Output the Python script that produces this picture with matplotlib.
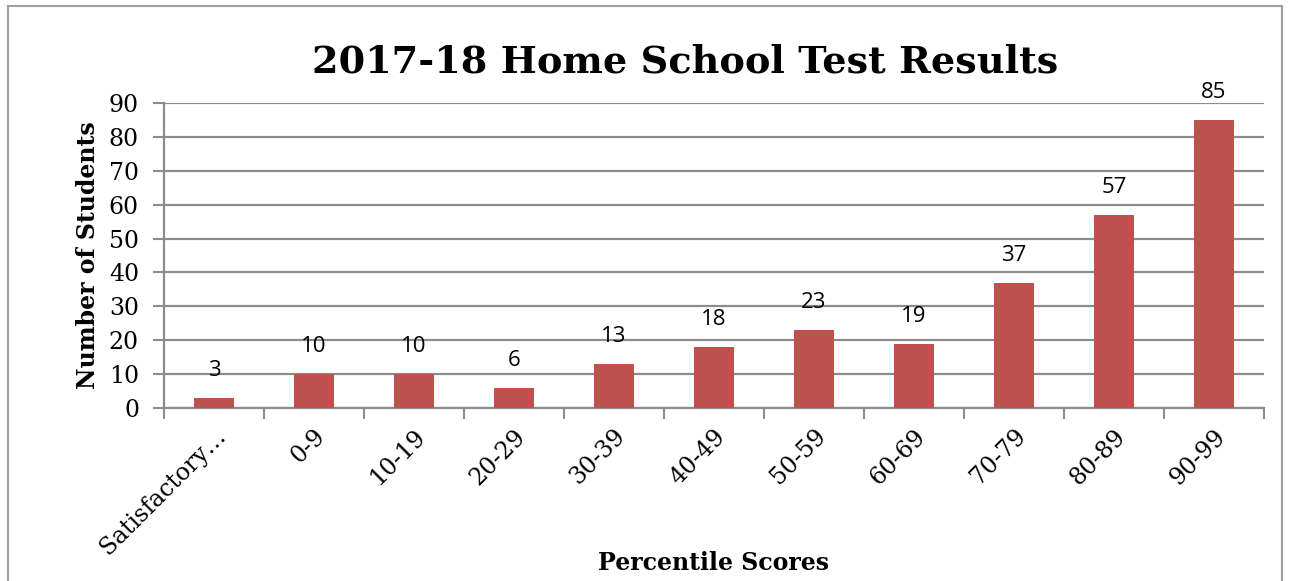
import numpy as np
import matplotlib.pyplot as plt
from matplotlib.patches import Rectangle

# chart data
categories = ['Satisfactory…', '0-9', '10-19', '20-29', '30-39', '40-49',
              '50-59', '60-69', '70-79', '80-89', '90-99']
students = [3, 10, 10, 6, 13, 18, 23, 19, 37, 57, 85]
y_ticks = [0, 10, 20, 30, 40, 50, 60, 70, 80, 90]

bar_color = '#C0504D'
grid_color = '#8c8c8c'
serif = ['DejaVu Serif']

fig = plt.figure(figsize=(12.9, 5.81), dpi=100)
ax = fig.add_axes([164/1290, 1-408/581, 1100/1290, 305/581])

# outer chart border
fig.patches.append(Rectangle((8/1290, -0.1), 1274/1290, 1.1 - 6/581,
                             transform=fig.transFigure, fill=False,
                             edgecolor='#a0a0a0', linewidth=1.5))

x = np.arange(len(categories))
ax.bar(x, students, width=0.4, color=bar_color, zorder=3)
for xi, v in zip(x, students):
    ax.annotate(str(v), (xi, v), xytext=(0, 12), textcoords='offset points',
                ha='center', va='bottom', fontsize=16, family='Open Sans')

ax.set_xlim(-0.5, len(categories) - 0.5)
ax.set_ylim(0, 90)
ax.set_yticks(y_ticks)
ax.set_yticklabels([str(t) for t in y_ticks], family=serif, fontsize=17)
ax.yaxis.grid(True, color=grid_color, linewidth=1.6, zorder=0)
ax.set_axisbelow(True)

# x ticks between categories, labels at the centres
ax.set_xticks(np.arange(-0.5, len(categories)), minor=False)
ax.set_xticklabels([])
ax.set_xticks(x, minor=True)
ax.set_xticklabels(categories, minor=True, rotation=45, ha='right',
                   va='top', rotation_mode='anchor', family=serif, fontsize=17)
ax.tick_params(axis='x', which='minor', length=0, pad=12)
ax.tick_params(axis='x', which='major', length=8, width=1.5, color=grid_color)
ax.tick_params(axis='y', length=8, width=1.5, color=grid_color, pad=10)

for s in ['top', 'right']:
    ax.spines[s].set_visible(False)
for s in ['left', 'bottom']:
    ax.spines[s].set_color(grid_color)
    ax.spines[s].set_linewidth(1.6)

fig.text(685/1290, 1-62/581, '2017-18 Home School Test Results',
         ha='center', va='center', fontsize=27.5, fontweight='bold', family=serif)
fig.text(88/1290, 1-255/581, 'Number of Students', rotation=90,
         ha='center', va='center', fontsize=17, fontweight='bold', family=serif)
fig.text(714/1290, 1-563/581, 'Percentile Scores',
         ha='center', va='center', fontsize=17, fontweight='bold', family=serif)

fig.savefig('out.png', dpi=100)
